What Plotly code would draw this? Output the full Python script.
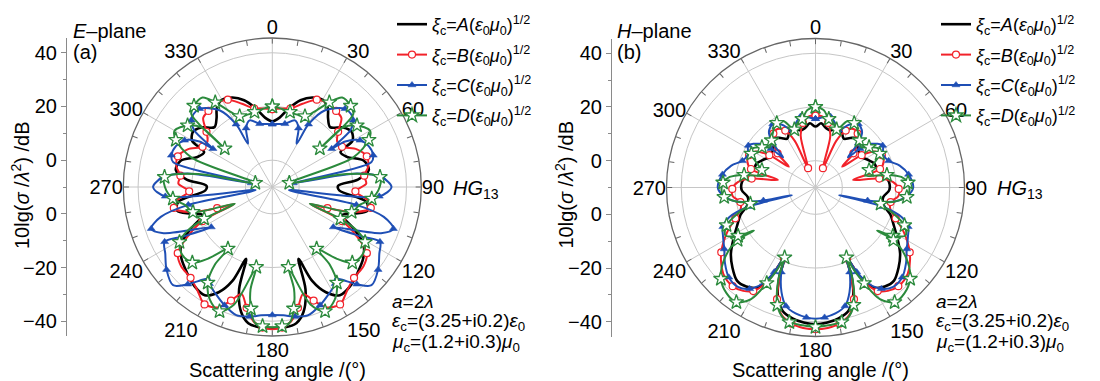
import plotly.graph_objects as go

W, H = 1100, 381
FONT = "Liberation Sans, Arial, sans-serif"

# ---------------- data: right half (0..180 deg, path order), mirrored for 180..360 -------------
# E-plane
E_A_theta = [0, 6, 12, 18, 24, 30, 35, 39, 44, 50, 55, 60, 63, 68, 74, 80, 85, 89, 93, 99, 104, 108,
             112, 117, 122, 128, 135, 142, 148, 153, 157, 160, 162, 166, 170, 175, 180]
E_A_db = [14.5, 16, 20, 24, 26.5, 27.5, 26, 23, 21, 24.5, 26, 24.5, 18.5, 20, 25.5, 26.5, 22, 14.5, 15,
          25.5, 26.5, 22, 18, 24, 30, 33, 35, 37, 37.5, 34, 28, 18.5, 30, 38, 41.5, 42.5, 42.5]

E_B_theta = [0, 7, 13, 20, 27, 34, 40, 45, 50, 55, 60, 66, 72, 78, 83, 88, 93, 98, 102, 107, 111, 114,
             116, 120, 125, 131, 138, 144, 150, 156, 160, 164, 168, 172, 176, 180]
E_B_db = [19, 19.5, 20, 23, 26.5, 27.5, 27, 26.4, 22, 19.5, 20, 24.5, 27, 26.5, 24.5, 25, 21, 26, 27.5,
          22, 12, 5.5, 19, 26, 33, 35, 35.5, 37.5, 40.5, 39, 35, 31.5, 36, 40.5, 42.5, 43]

E_C_theta = [0, 6, 11.3, 18.8, 24, 29.3, 30, 34.5, 42.9, 47, 50.5, 54, 57.2, 58, 62, 67, 72.6, 76, 79.5,
             81, 85, 90, 95, 100.6, 102, 105, 109, 113, 123.3, 119, 117, 122, 128, 134.7, 139, 145.6,
             147, 152, 158, 164.3, 170, 175, 180]
E_C_db = [13.4, 13.6, 14, 16.2, 14, 8.5, 17, 24.7, 29.8, 30, 29.1, 26, 16.3, 22, 27, 29, 29.4, 28, -2,
          22, 31, 34.4, 30, -3.7, 22, 33, 37.7, 34, 17.2, 28, 35, 37, 40, 42, 38, 31.4, 33, 35, 37.5,
          39.6, 39, 38, 37.7]

E_D_theta = [0, 7, 13.3, 19, 24.8, 30, 34, 38, 44, 48, 51, 50, 54, 60, 64, 70, 76.5, 80, 84.7, 90, 96.7,
             102, 107.5, 113.9, 115, 117, 120.7, 127, 133.4, 138, 144.3, 143.5, 146, 151, 157, 162,
             168.7, 168, 170, 172.5, 176, 180]
E_D_db = [20, 19.3, 18.7, 18.5, 19, 23, 28, 32.3, 32, 30.6, 12.8, 24.6, 29, 32, 30, 22, -3.5, 18, 30.3,
          30, 27.3, 23, 21, 5.3, 18, 25, 30.2, 32, 31, 26, 18.3, 26, 33, 38, 40.3, 36, 20.4, 29, 36,
          40.8, 42, 42.2]

# H-plane
H_A_theta = [0, 5, 10, 15, 20, 25, 30, 35, 40, 45, 50, 56, 62, 68, 74, 80, 86, 92, 98, 104, 110, 116,
             122, 128, 134, 140, 145, 150, 153.5, 156.2, 158, 161, 165, 170, 175, 180]
H_A_db = [12.7, 14, 12.5, 12, 14, 13, 11, 12.5, 14, 12, 11, 10.5, 12, 13.7, 14, 16, 17.5, 17.5, 15.5,
          16, 19.7, 22.5, 26, 30, 33, 35.4, 35, 33, 27, 18.4, 26, 33, 37.5, 39.5, 40.5, 41]

H_B_theta = [0, 6, 11, 16, 21, 24, 28, 33, 38, 43, 48, 52, 55, 59, 64, 69, 74, 78.5, 82, 86, 91, 96,
             101, 106, 111, 117, 124.5, 133, 140, 145, 149, 153, 156, 158, 161, 165, 170, 175, 180]
H_B_db = [16.8, 16.5, 14.5, 10, -2.3, 9, 14, 16, 15.5, 13, 9, 2.6, 11, 16, 17.5, 17.2, 15, 4.3, 14, 19,
          21, 21, 18.5, 19, 22, 27, 32.6, 37, 38, 37, 35, 29, 19, 25, 34, 39, 41.5, 42.5, 42.8]

H_C_theta = [0, 6, 12, 17, 22, 28, 34, 40, 44, 47, 49, 52, 58, 64, 70, 75.4, 82, 90, 95, 100, 104, 108,
             106, 109, 113, 118, 124, 130, 136, 142, 147, 151, 154, 156, 158, 162, 166, 171, 176, 180]
H_C_db = [15.6, 16.3, 17, 15, 13, 16.5, 18.5, 17, 13, 6.5, 12, 16.4, 19.5, 18, 19, 22.4, 25, 26.4, 24.5,
          20, 10, -0.8, 16, 24, 27.5, 29, 31, 34, 36.5, 37, 35, 31, 25, 18, 24, 31, 35.5, 37.5, 38.5,
          38.9]

H_D_theta = [0, 6, 11, 15, 20, 25.6, 31, 37.5, 43, 48.6, 53, 58, 62.3, 67, 72, 76.7, 80, 83, 87, 92, 96,
             100, 104, 108, 113, 118, 122, 125, 124, 128, 134, 140, 145.4, 150, 153, 155, 156.2, 158,
             162, 166, 169, 174, 180]
H_D_db = [20, 19, 16, 15.2, 13, 17.4, 18, 16, 14, 12.7, 15, 17.5, 17, 14, 11, 9.4, 17, 22.2, 24.5, 25,
          24.2, 20, 15, 20, 26, 28, 24, 18, 25, 33, 39, 41.5, 41.9, 38, 30, 24, 18.5, 27, 36, 40, 41.1,
          41.5, 42]

major_angle_ticks = list(range(0, 360, 30))
major_angle_text = [str(a) for a in major_angle_ticks]
minor_angle_ticks = list(range(0, 360, 10))
radial_range = [-10, 45.5]
radial_grid = [0, 20, 40]
side_axis_pos = [50, 30, 10, -10, -30, -50]
side_axis_text = ["40", "20", "0", "0", "\u221220", "\u221240"]

names = {
    k: "<i>\u03be</i><sub>c</sub>=<i>%s</i>(<i>\u03b5</i><sub>0</sub><i>\u03bc</i><sub>0</sub>)"
       "<sup>1/2</sup>" % k
    for k in "ABCD"
}

colors = {"A": "#000000", "B": "#f2222a", "C": "#1f4fb5", "D": "#2b8a3c"}
widths = {"A": 2.6, "B": 2.0, "C": 2.0, "D": 2.0}
markers = {
    "A": None,
    "B": dict(symbol="circle", size=7, color="white", line=dict(color=colors["B"], width=1.2)),
    "C": dict(symbol="triangle-up", size=7, color=colors["C"], line=dict(color=colors["C"], width=0.5)),
    "D": dict(symbol="star", size=11, color="white", line=dict(color=colors["D"], width=1.3)),
}


def full(theta, db):
    t = list(theta) + [360 - x for x in reversed(theta[:-1])]
    r = list(db) + list(reversed(db[:-1]))
    return t, r


def px_x(x):  # page pixel -> paper
    return x / W


def px_y(y):
    return 1 - y / H


fig = go.Figure()

planes = [
    ("polar", "polar2", "legend", {"A": (E_A_theta, E_A_db), "B": (E_B_theta, E_B_db),
                                   "C": (E_C_theta, E_C_db), "D": (E_D_theta, E_D_db)}),
    ("polar3", "polar4", "legend2", {"A": (H_A_theta, H_A_db), "B": (H_B_theta, H_B_db),
                                     "C": (H_C_theta, H_C_db), "D": (H_D_theta, H_D_db)}),
]

for grid_sp, data_sp, leg, series in planes:
    fig.add_trace(go.Scatterpolar(r=[None], theta=[None], subplot=grid_sp, showlegend=False,
                                  hoverinfo="skip"))
    for key in ["A", "B", "C", "D"]:
        th, db = full(*series[key])
        fig.add_trace(go.Scatterpolar(
            r=db, theta=th, mode="lines", subplot=data_sp, showlegend=False,
            line=dict(color=colors[key], width=widths[key], shape="spline", smoothing=0.9),
            hoverinfo="skip"))
        if markers[key] is not None:
            fig.add_trace(go.Scatterpolar(
                r=db[::2], theta=th[::2], mode="markers", subplot=data_sp, showlegend=False,
                marker=markers[key], hoverinfo="skip"))
    for key in ["A", "B", "C", "D"]:
        fig.add_trace(go.Scatterpolar(
            r=[None], theta=[None], subplot=data_sp, legend=leg, name=names[key],
            legendgroup=leg + key,
            mode="lines" if markers[key] is None else "lines+markers",
            line=dict(color=colors[key], width=widths[key]),
            marker=markers[key] if markers[key] is not None else None))

# dummy traces for the side (radial scale) axes
fig.add_trace(go.Scatter(x=[None], y=[None], xaxis="x", yaxis="y", showlegend=False))
fig.add_trace(go.Scatter(x=[None], y=[None], xaxis="x2", yaxis="y2", showlegend=False))

R = 149
centers = [(272.3, 187.0), (815.5, 187.5)]
tickfont = dict(family=FONT, size=20, color="black")


def grid_polar(cx, cy):
    return dict(
        domain=dict(x=[px_x(cx - R), px_x(cx + R)], y=[px_y(cy + R), px_y(cy - R)]),
        bgcolor="white",
        radialaxis=dict(range=radial_range, tickvals=radial_grid, showticklabels=False, ticks="",
                        showline=False, gridcolor="#c6c6c6", gridwidth=0.9),
        angularaxis=dict(direction="clockwise", rotation=90, tickmode="array",
                         tickvals=major_angle_ticks, ticktext=major_angle_text,
                         showticklabels=True, ticks="", showline=False, gridcolor="#c6c6c6",
                         gridwidth=0.9, tickfont=tickfont),
    )


def data_polar(cx, cy):
    return dict(
        domain=dict(x=[px_x(cx - R), px_x(cx + R)], y=[px_y(cy + R), px_y(cy - R)]),
        bgcolor="rgba(0,0,0,0)",
        radialaxis=dict(range=radial_range, showgrid=False, showticklabels=False, ticks="",
                        showline=False),
        angularaxis=dict(direction="clockwise", rotation=90, tickmode="array",
                         tickvals=minor_angle_ticks, showticklabels=False, ticks="inside",
                         ticklen=5, tickwidth=1, tickcolor="#666", showline=True,
                         linecolor="#666", linewidth=1.3, showgrid=False),
    )


def side_axis(pos, cy):
    return dict(
        anchor="free", position=pos, domain=[px_y(cy + R), px_y(cy - R)],
        range=[-(radial_range[1] - radial_range[0]), radial_range[1] - radial_range[0]],
        tickmode="array", tickvals=side_axis_pos, ticktext=side_axis_text,
        ticks="outside", ticklen=5, tickcolor="#8a8a8a", showline=True, linecolor="#8a8a8a",
        linewidth=1.2, showgrid=False, zeroline=False, tickfont=tickfont,
        minor=dict(tickmode="linear", tick0=0, dtick=10, ticks="outside", ticklen=3,
                   tickcolor="#8a8a8a"),
    )


legend_common = dict(xanchor="left", yanchor="top", bgcolor="rgba(0,0,0,0)",
                     font=dict(family=FONT, size=18, color="black"), tracegroupgap=4,
                     itemwidth=30, itemclick=False)

fig.update_layout(
    width=W, height=H, margin=dict(l=0, r=0, t=0, b=0, autoexpand=False),
    paper_bgcolor="white", plot_bgcolor="rgba(0,0,0,0)",
    font=dict(family=FONT, size=20, color="black"),
    polar=grid_polar(*centers[0]), polar2=data_polar(*centers[0]),
    polar3=grid_polar(*centers[1]), polar4=data_polar(*centers[1]),
    xaxis=dict(visible=False, domain=[0, 0.02]),
    yaxis=side_axis(px_x(66), centers[0][1]),
    xaxis2=dict(visible=False, domain=[0.5, 0.52]),
    yaxis2=side_axis(px_x(611), centers[1][1]),
    legend=dict(x=px_x(392), y=px_y(6), **legend_common),
    legend2=dict(x=px_x(936), y=px_y(6), **legend_common),
    showlegend=True,
)

ann = []


def add_text(text, x, y, xanchor="left", size=20, angle=0):
    ann.append(dict(text=text, x=px_x(x), y=px_y(y), xref="paper", yref="paper", showarrow=False,
                    xanchor=xanchor, yanchor="middle", textangle=angle,
                    font=dict(family=FONT, size=size, color="black")))


for dx, plane, lab in [(0, "E", "(a)"), (543.5, "H", "(b)")]:
    add_text("<i>%s</i>\u2013plane" % plane, 71 + dx, 31, size=20)
    add_text(lab, 71 + dx, 52, size=20)
    add_text("<i>HG</i><sub>13</sub>", 451 + dx, 189, size=20)
    add_text("<i>a</i>=2<i>\u03bb</i>", 390 + dx, 301, size=19)
    add_text("<i>\u03b5</i><sub>c</sub>=(3.25+i0.2)<i>\u03b5</i><sub>0</sub>", 390 + dx, 322, size=19)
    add_text("<i>\u03bc</i><sub>c</sub>=(1.2+i0.3)<i>\u03bc</i><sub>0</sub>", 390 + dx, 343, size=19)
    add_text("Scattering angle /(\u00b0)", 277 + dx, 370, xanchor="center", size=20)
    add_text("10lg(<i>\u03c3</i> /<i>\u03bb</i><sup>2</sup>) /dB", 21 + dx, 185, xanchor="center",
             size=20, angle=-90)

fig.update_layout(annotations=ann)
# remove the browser's default 8 px page margin so the figure fills the window exactly
fig.write_html("out.html", config={"displayModeBar": False},
               post_script="document.body.style.margin='0';")
